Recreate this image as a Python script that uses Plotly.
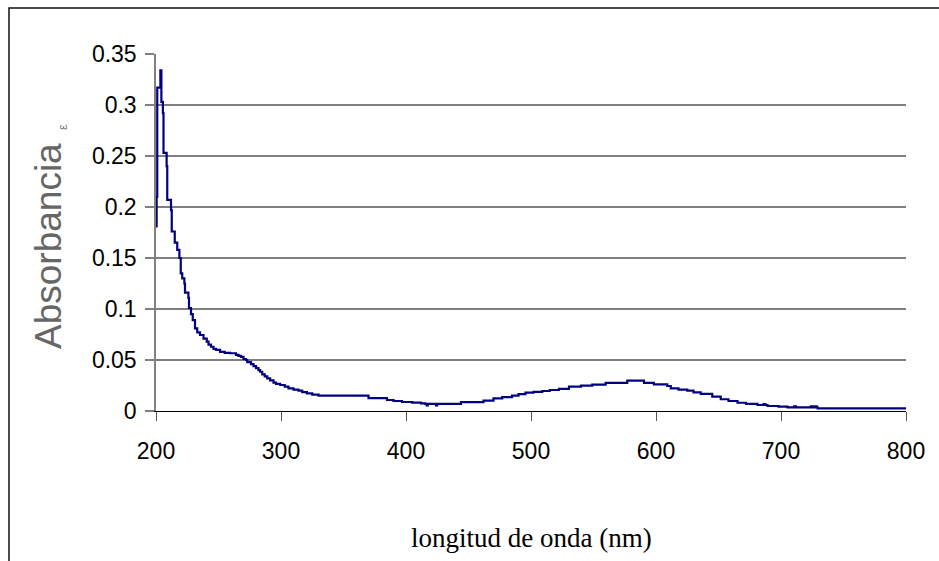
import plotly.graph_objects as go

# Absorption spectrum (wavelength in nm, absorbance), stepwise instrument readout
wavelength_nm = [
    200, 200.5, 201, 203.5, 204.3, 205.5, 206, 208.5, 209, 212, 212.6, 215,
    217, 218.7, 219.8, 221, 222.7, 223.2, 225.9, 226.4, 228, 229.4, 231.2,
    233, 235.2, 238, 240.6, 242, 244, 246, 248, 251.3, 255, 259.3, 264, 266,
    268, 270, 272, 273, 276, 278, 280, 282, 283.3, 285, 287, 289, 291.3, 294,
    296, 299.3, 303, 306, 310, 314, 317, 320.7, 325, 330, 370, 384.8, 390,
    396.8, 405, 412, 415.5, 416.5, 417.5, 424, 425, 444, 462, 470, 477,
    484.8, 490, 495.6, 502, 509, 515, 522.3, 530.4, 540, 549, 559.7, 577,
    590.4, 598.3, 609, 611.8, 618, 625, 630, 635.8, 645, 651.8, 658, 665.2,
    672, 681.2, 686, 687.5, 689.2, 698, 705.2, 710.5, 712, 724, 725.5, 727,
    728.5, 729.3, 800,
]
absorbance = [
    0.181, 0.21, 0.317, 0.334, 0.303, 0.292, 0.253, 0.240, 0.207, 0.197,
    0.176, 0.165, 0.158, 0.150, 0.135, 0.130, 0.125, 0.116, 0.111, 0.101,
    0.095, 0.089, 0.081, 0.077, 0.0745, 0.071, 0.068, 0.065, 0.063, 0.061,
    0.060, 0.058, 0.057, 0.0566, 0.055, 0.054, 0.053, 0.051, 0.050, 0.048,
    0.046, 0.044, 0.042, 0.040, 0.0385, 0.036, 0.034, 0.032, 0.030, 0.0278,
    0.0265, 0.0255, 0.0238, 0.0222, 0.021, 0.0199, 0.0185, 0.0173, 0.016,
    0.015, 0.0127, 0.0108, 0.0098, 0.0088, 0.0082, 0.0075, 0.0069, 0.0055,
    0.0069, 0.0055, 0.0069, 0.0087, 0.0101, 0.0124, 0.0137, 0.015, 0.0165,
    0.018, 0.0188, 0.0196, 0.0206, 0.0216, 0.0238, 0.0248, 0.0258, 0.0275,
    0.0297, 0.0275, 0.0262, 0.0245, 0.0222, 0.0210, 0.0199, 0.0183, 0.0167,
    0.014, 0.0115, 0.0098, 0.0081, 0.0070, 0.0059, 0.0068, 0.0059, 0.0049,
    0.0042, 0.0036, 0.0046, 0.0036, 0.0046, 0.0036, 0.0046, 0.0036, 0.0026,
    0.0026,
]

x_ticks = [200, 300, 400, 500, 600, 700, 800]
y_ticks = [0, 0.05, 0.1, 0.15, 0.2, 0.25, 0.3, 0.35]
y_tick_text = ["0", "0.05", "0.1", "0.15", "0.2", "0.25", "0.3", "0.35"]

W, H = 939, 561
L, R, T, B = 156, 33, 54, 150
plot_w, plot_h = W - L - R, H - T - B


def px_x(x):
    return (x - L) / plot_w


def px_y(y):
    return (H - B - y) / plot_h


fig = go.Figure()
fig.add_trace(go.Scatter(
    x=wavelength_nm, y=absorbance, mode="lines",
    line=dict(color="#000080", width=2.2, shape="hv"),
    hoverinfo="skip",
))

# horizontal gridlines at the inner tick values
shapes = [
    dict(type="line", xref="paper", yref="y", x0=0, x1=1, y0=v, y1=v,
         line=dict(color="#000000", width=1.2), layer="below")
    for v in y_ticks[1:-1]
]
# outer chart border
shapes.append(dict(type="rect", xref="paper", yref="paper",
                   x0=px_x(9), x1=px_x(960), y0=px_y(600), y1=px_y(8),
                   line=dict(color="#111111", width=1.5)))

tick_font = dict(family="Liberation Sans, Arial, sans-serif", size=23,
                 color="#000")

fig.update_layout(
    width=W, height=H,
    margin=dict(l=L, r=R, t=T, b=B),
    paper_bgcolor="white", plot_bgcolor="white",
    showlegend=False,
    shapes=shapes,
    font=tick_font,
    xaxis=dict(
        range=[200, 800], tickvals=x_ticks, showgrid=False, zeroline=False,
        showline=True, linecolor="#000000", linewidth=1.2,
        ticks="outside", ticklen=9, tickcolor="#555555", tickwidth=1.2,
        tickfont=tick_font, ticklabelstandoff=10,
    ),
    yaxis=dict(
        range=[0, 0.35], tickvals=y_ticks, ticktext=y_tick_text,
        showgrid=False, zeroline=False,
        showline=True, linecolor="#808080", linewidth=1.5,
        ticks="outside", ticklen=9, tickcolor="#808080", tickwidth=1.5,
        tickfont=tick_font, ticklabelstandoff=4,
    ),
    annotations=[
        dict(text="Absorbancia", xref="paper", yref="paper",
             x=px_x(48), y=px_y(246), xanchor="center", yanchor="middle",
             textangle=-90, showarrow=False,
             font=dict(family="Liberation Sans, Arial, sans-serif", size=37,
                       color="#666666")),
        dict(text="ε", xref="paper", yref="paper",
             x=px_x(62), y=px_y(127), xanchor="center", yanchor="middle",
             textangle=-90, showarrow=False,
             font=dict(family="Liberation Sans, Arial, sans-serif", size=13,
                       color="#777777")),
        dict(text="longitud de onda (nm)", xref="paper", yref="paper",
             x=0.5, y=px_y(538), xanchor="center", yanchor="middle",
             showarrow=False,
             font=dict(family="Liberation Serif, Times New Roman, serif",
                       size=27, color="#000")),
    ],
)

fig.write_html("out.html")
